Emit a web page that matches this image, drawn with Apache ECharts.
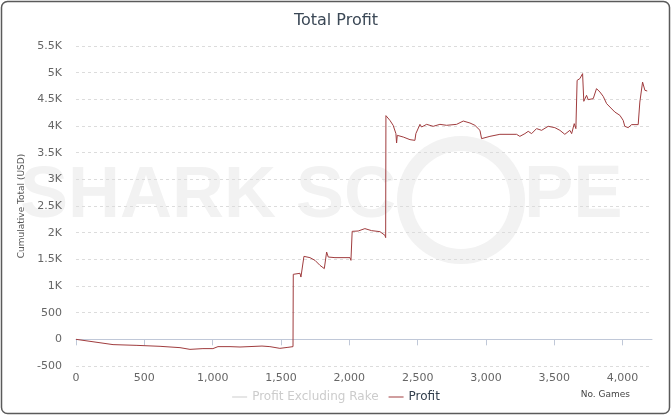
<!DOCTYPE html>
<html>
<head>
<meta charset="utf-8">
<script src="https://cdn.jsdelivr.net/npm/echarts@6/dist/echarts.min.js"></script>
<style>
html,body{margin:0;padding:0;background:#fff;}
#chart{width:672px;height:416px;}
</style>
</head>
<body>
<div id="chart"></div>
<script>
// Data
var games = [0, 271, 446, 615, 761, 834, 929, 1002, 1039, 1127, 1200, 1361, 1419, 1492, 1551, 1588,
  1590, 1639, 1646, 1668, 1712, 1749, 1785, 1817, 1822, 1834, 1846, 1895, 2005, 2012,
  2021, 2065, 2114, 2163, 2224, 2261, 2266,
  2268, 2297, 2321, 2341, 2346, 2351, 2395, 2444, 2480, 2487, 2517, 2529, 2566, 2614, 2663, 2712, 2785, 2834, 2883, 2919, 2956,
  2968, 3029, 3102, 3224, 3248, 3285, 3309, 3334, 3370, 3407, 3455, 3504, 3541, 3577, 3614, 3627, 3646, 3658,
  3667, 3687, 3707, 3716, 3736, 3748, 3785, 3809, 3834, 3858, 3883, 3907, 3943, 3980, 4004, 4016, 4041, 4066, 4114,
  4126, 4133, 4146, 4163, 4180];
var profit = [0, -99, -113, -131, -156, -188, -174, -174, -137, -137, -144, -126, -137, -169, -150, -137,
  1219, 1238, 1168, 1556, 1532, 1481, 1388, 1326, 1294, 1637, 1543, 1532, 1532, 1481,
  2025, 2031, 2076, 2038, 2019, 1950, 1907,
  4194, 4106, 4012, 3857, 3681, 3825, 3793, 3744, 3731, 3857, 4031, 3981, 4031, 3994, 4031, 4013, 4031, 4093, 4056, 4013, 3919,
  3763, 3806, 3844, 3844, 3806, 3857, 3900, 3857, 3951, 3919, 3994, 3969, 3919, 3844, 3919, 3857, 4044, 3951,
  4856, 4888, 4982, 4463, 4575, 4494, 4513, 4701, 4637, 4556, 4419, 4356, 4262, 4200, 4106, 3994, 3969, 4026, 4026,
  4449, 4419, 4824, 4669, 4656];
var profitExRake = []; // hidden series in the reference
var seriesNames = ['Profit Excluding Rake', 'Profit'];
var yTicks = [-500, 0, 500, 1000, 1500, 2000, 2500, 3000, 3500, 4000, 4500, 5000, 5500];
var xTicks = [0, 500, 1000, 1500, 2000, 2500, 3000, 3500, 4000];

var profitData = games.map(function (g, i) { return [g, profit[i]]; });

var chart = echarts.init(document.getElementById('chart'), null, {renderer: 'canvas'});
var font = '"DejaVu Sans", Verdana, sans-serif';
var wmFill = '#f2f2f2';
var option = {
  animation: false,
  backgroundColor: '#fff',
  textStyle: {fontFamily: font},
  title: {
    text: 'Total Profit', left: 'center', top: 8,
    textStyle: {fontFamily: font, fontSize: 16, fontWeight: 'normal', color: '#3b4856'}
  },
  graphic: [
    {type: 'rect', z: 100, silent: true, shape: {x: 1.5, y: 1.5, width: 668, height: 412, r: 6}, style: {fill: 'none', stroke: '#5a5a5a', lineWidth: 1.5}},
    {type: 'text', z: -1, silent: true, style: {x: 20, y: 197, textVerticalAlign: 'middle', text: 'SHARK SC', font: 'bold 72px "Liberation Sans", Arial, sans-serif', fill: wmFill}},
    {type: 'ring', z: -1, silent: true, shape: {cx: 461, cy: 200, r: 64, r0: 49}, style: {fill: wmFill}},
    {type: 'text', z: -1, silent: true, style: {x: 524, y: 197, textVerticalAlign: 'middle', text: 'PE', font: 'bold 74px "Liberation Sans", Arial, sans-serif', fill: wmFill}},
    {type: 'text', silent: true, style: {x: 630, y: 395, textAlign: 'right', textVerticalAlign: 'middle', text: 'No. Games', font: '9px "DejaVu Sans", sans-serif', fill: '#444'}}
  ],
  legend: {
    data: seriesNames,
    bottom: 8, left: 'center',
    icon: 'rect', itemWidth: 15, itemHeight: 1, itemGap: 10,
    selected: {'Profit Excluding Rake': false},
    inactiveColor: '#cccccc',
    textStyle: {fontFamily: font, fontSize: 12, color: '#333f4d'}
  },
  grid: {left: 76, right: 20, top: 46, bottom: 50, containLabel: false},
  xAxis: {
    type: 'value', min: 0, max: 4215, interval: 500,
    axisLine: {lineStyle: {color: '#c0c8d8'}},
    axisTick: {show: true, length: 6, lineStyle: {color: '#c0c8d8'}},
    splitLine: {show: false},
    axisLabel: {
      color: '#666', fontSize: 11, fontFamily: font, margin: 7, showMaxLabel: false,
      formatter: function (v) { return xTicks.indexOf(v) >= 0 ? v.toLocaleString('en-US') : ''; }
    }
  },
  yAxis: {
    type: 'value', min: -500, max: 5500, interval: 500,
    name: 'Cumulative Total (USD)', nameLocation: 'middle', nameGap: 49, nameRotate: 90,
    nameTextStyle: {color: '#555', fontSize: 9, fontFamily: font},
    axisLine: {show: false}, axisTick: {show: false},
    splitLine: {lineStyle: {color: '#dcdcdc', type: [3, 3]}},
    axisLabel: {
      color: '#666', fontSize: 11, fontFamily: font, margin: 14,
      formatter: function (v) {
        if (yTicks.indexOf(v) < 0) return '';
        return Math.abs(v) >= 1000 ? (v / 1000) + 'K' : String(v);
      }
    }
  },
  series: [
    {name: seriesNames[0], type: 'line', data: profitExRake, showSymbol: false, symbol: 'none', lineStyle: {width: 1, color: '#aaaaaa'}, itemStyle: {color: '#aaaaaa'}},
    {name: seriesNames[1], type: 'line', data: profitData, showSymbol: false, symbol: 'none', lineStyle: {width: 1, color: '#a03c3e'}, itemStyle: {color: '#a03c3e'}, z: 5}
  ]
};
chart.setOption(option);
</script>
</body>
</html>
